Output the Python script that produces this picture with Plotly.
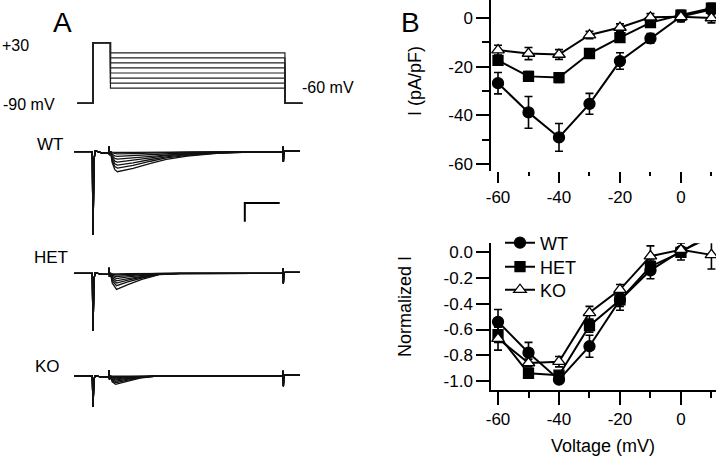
import plotly.graph_objects as go

W, H = 720, 456
FONT = "Liberation Sans, Arial, sans-serif"

# ---------------- Panel B data ----------------
voltage = [-60, -50, -40, -30, -20, -10, 0, 10]

wt_density = [-26.8, -38.8, -49.1, -35.3, -17.7, -8.4, 0.6, 3.5]
wt_density_err = [4.4, 6.5, 5.7, 4.3, 3.4, 2.0, 2.0, 2.0]
het_density = [-17.4, -24.0, -24.5, -14.6, -8.1, -1.9, 1.2, 4.0]
het_density_err = [2.0, 2.0, 2.0, 1.5, 1.5, 1.5, 2.0, 2.0]
ko_density = [-13.2, -14.6, -15.0, -7.0, -3.9, 0.3, 0.5, 0.0]
ko_density_err = [2.0, 2.5, 2.0, 1.5, 1.5, 1.5, 2.0, 2.0]

wt_norm = [-0.54, -0.78, -0.99, -0.73, -0.37, -0.14, 0.01, 0.12]
wt_norm_err = [0.095, 0.08, 0.02, 0.085, 0.08, 0.065, 0.07, 0.0]
het_norm = [-0.64, -0.94, -0.955, -0.57, -0.37, -0.11, 0.0, 0.15]
het_norm_err = [0.06, 0.02, 0.02, 0.05, 0.05, 0.05, 0.03, 0.0]
ko_norm = [-0.67, -0.86, -0.85, -0.47, -0.29, -0.03, 0.02, -0.02]
ko_norm_err = [0.09, 0.03, 0.04, 0.05, 0.04, 0.08, 0.05, 0.11]

density_ticks = [0, -20, -40, -60]
density_ticktext = ["0", "-20", "-40", "-60"]
norm_ticks = [0.0, -0.2, -0.4, -0.6, -0.8, -1.0]
norm_ticktext = ["0.0", "-0.2", "-0.4", "-0.6", "-0.8", "-1.0"]
volt_ticks = [-60, -40, -20, 0]
volt_ticktext = ["-60", "-40", "-20", "0"]

# ---------------- Panel A data ----------------
step_levels = [-60, -50, -40, -30, -20, -10, 0, 10]     # mV
holding_mv = -90
prepulse_mv = 30
protocol_t = [-9, 0, 0, 10, 10, 110, 110, 120]           # ms

genotypes = ["WT", "HET", "KO"]
spike_pa = {"WT": -445, "HET": -307, "KO": -164}
peak_pa = {
    "WT": [107, 88, 72, 56, 40, 25, 12, 4],
    "HET": [86, 66, 52, 40, 28, 18, 9, 3],
    "KO": [45, 36, 28, 21, 15, 9, 5, 2],
}
shape_t = {
    "WT": [10.05, 11, 12.5, 14, 23, 33, 42, 54, 71, 90, 108.5],
    "HET": [10.05, 11, 13.5, 20, 28, 38, 50, 108.5],
    "KO": [10.05, 11, 13, 20, 27, 35, 108.5],
}
shape_rel = {
    "WT": [0, 0.55, 0.9, 1.0, 0.83, 0.58, 0.38, 0.22, 0.08, 0.02, 0],
    "HET": [0, 0.6, 1.0, 0.7, 0.38, 0.08, 0.02, 0],
    "KO": [0, 0.7, 1.0, 0.6, 0.25, 0.05, 0],
}
pre_t = [-10.8, -0.4, 0.0, 0.6, 1.3, 2.5, 5.0, 9.0, 9.2, 9.45, 9.7, 10.0]
pre_spike_rel = [0, 0, 1, 0.09, -0.01, 0, 0, 0, 0, 0, 0, 0]
pre_artifact_pa = [0, 0, 0, 0, 0, 0, -6, -6, 30, -18, -4, 0]
post_t = [108.7, 108.9, 109.1, 109.4, 110.0, 118.5]
post_pa = [0, 28, -55, 0, 5, 5]
scalebar_ms = 20
scalebar_pa = 100
scalebar_origin = (87, -275)


# ---------------- helpers for placement ----------------
def xdom(a, b):
    return [a / W, b / W]


def ydom(top, bottom):
    return [1 - bottom / H, 1 - top / H]


fig = go.Figure()

# ---- Panel B ----
series = [
    ("WT", "circle", "black", wt_density, wt_density_err, wt_norm, wt_norm_err, "legend", 243),
    ("HET", "square", "black", het_density, het_density_err, het_norm, het_norm_err, "legend2", 267),
    ("KO", "triangle-up", "white", ko_density, ko_density_err, ko_norm, ko_norm_err, "legend3", 290),
]
for name, sym, fill, yv, ye, yn, yne, lg, ly in series:
    msize = 11 if sym != "square" else 10
    fig.add_trace(go.Scatter(
        x=voltage, y=yv, mode="lines+markers", name=name, showlegend=False,
        line=dict(color="black", width=2),
        marker=dict(symbol=sym, size=msize, color=fill, line=dict(color="black", width=1.3)),
        error_y=dict(type="data", array=ye, color="black", thickness=1.6, width=4),
        xaxis="x", yaxis="y",
    ))
for name, sym, fill, yv, ye, yn, yne, lg, ly in series:
    msize = 11 if sym != "square" else 10
    fig.add_trace(go.Scatter(
        x=voltage, y=yn, mode="lines+markers", name=name, showlegend=True, legend=lg,
        line=dict(color="black", width=2),
        marker=dict(symbol=sym, size=msize, color=fill, line=dict(color="black", width=1.3)),
        error_y=dict(type="data", array=yne, color="black", thickness=1.6, width=4),
        xaxis="x2", yaxis="y2",
    ))

# ---- Panel A: voltage protocol ----
for lvl in step_levels:
    v = [holding_mv, holding_mv, prepulse_mv, prepulse_mv, lvl, lvl, holding_mv, holding_mv]
    fig.add_trace(go.Scatter(x=protocol_t, y=v, mode="lines", showlegend=False,
                             line=dict(color="#222", width=1.2), xaxis="x3", yaxis="y3",
                             hoverinfo="skip"))

# ---- Panel A: current traces ----
axes_for = {"WT": ("x4", "y4"), "HET": ("x5", "y5"), "KO": ("x6", "y6")}
for g in genotypes:
    xa, ya = axes_for[g]
    pre_i = [spike_pa[g] * r + a for r, a in zip(pre_spike_rel, pre_artifact_pa)]
    for pk in peak_pa[g]:
        step_i = [-pk * s for s in shape_rel[g]]
        t = pre_t + shape_t[g] + post_t
        i = pre_i + step_i + post_pa
        fig.add_trace(go.Scatter(x=t, y=i, mode="lines", showlegend=False,
                                 line=dict(color="#111", width=1.3), xaxis=xa, yaxis=ya,
                                 hoverinfo="skip"))

# scale bar (WT axes)
sx, sy = scalebar_origin
fig.add_trace(go.Scatter(x=[sx, sx, sx + scalebar_ms], y=[sy - scalebar_pa, sy, sy],
                         mode="lines", showlegend=False, line=dict(color="black", width=2),
                         xaxis="x4", yaxis="y4", hoverinfo="skip"))

# ---------------- layout ----------------
tickfont = dict(family=FONT, size=17, color="black")
xr = [-62.3, 11.5]
a_xrange = [-13.18, 124.36]
a_xdom = xdom(70, 310)
hidden = dict(visible=False, showgrid=False, zeroline=False, fixedrange=True, automargin=False)


def legend_at(py):
    return dict(x=500 / W, y=1 - py / H, xanchor="left", yanchor="middle",
                font=dict(family=FONT, size=18, color="black"),
                bgcolor="rgba(0,0,0,0)", borderwidth=0, itemwidth=30)


fig.update_layout(
    template="none",
    width=W, height=H, margin=dict(l=0, r=0, t=0, b=0, pad=0, autoexpand=False),
    paper_bgcolor="white", plot_bgcolor="rgba(0,0,0,0)",
    font=dict(family=FONT, size=17, color="black"),
    showlegend=True,
    legend=legend_at(series[0][8]),
    legend2=legend_at(series[1][8]),
    legend3=legend_at(series[2][8]),
    xaxis=dict(domain=xdom(491, 716), range=xr, anchor="y", automargin=False,
               showline=False, showgrid=False, zeroline=False,
               ticks="outside", ticklen=11, tickwidth=1.5, tickcolor="black",
               tickvals=volt_ticks, ticktext=volt_ticktext, tickfont=tickfont,
               minor=dict(tickvals=[-50, -30, -10, 10], ticks="outside", ticklen=4,
                          tickwidth=1.5, tickcolor="black", showgrid=False)),
    yaxis=dict(domain=ydom(0, 171), range=[-62.9, 7.4], anchor="x", automargin=False,
               showline=True, linecolor="black", linewidth=1.5, showgrid=False, zeroline=False,
               ticks="outside", ticklen=13, tickwidth=1.5, tickcolor="black",
               tickvals=density_ticks, ticktext=density_ticktext, tickfont=tickfont,
               minor=dict(tickvals=[-10, -30, -50], ticks="outside", ticklen=7,
                          tickwidth=1.5, tickcolor="black", showgrid=False)),
    xaxis2=dict(domain=xdom(491, 716), range=xr, anchor="y2", automargin=False,
                showline=True, linecolor="black", linewidth=1.5, showgrid=False, zeroline=False,
                ticks="outside", ticklen=13, tickwidth=1.5, tickcolor="black",
                tickvals=volt_ticks, ticktext=volt_ticktext, tickfont=tickfont,
                minor=dict(tickvals=[-50, -30, -10, 10], ticks="outside", ticklen=6,
                           tickwidth=1.5, tickcolor="black", showgrid=False)),
    yaxis2=dict(domain=ydom(243.3, 390), range=[-1.07, 0.07], anchor="x2", automargin=False,
                showline=True, linecolor="black", linewidth=1.5, showgrid=False, zeroline=False,
                ticks="outside", ticklen=13, tickwidth=1.5, tickcolor="black",
                tickvals=norm_ticks, ticktext=norm_ticktext, tickfont=tickfont),
    xaxis3=dict(domain=a_xdom, range=a_xrange, anchor="y3", **hidden),
    yaxis3=dict(domain=ydom(30, 110), range=[-103.3, 55.1], anchor="x3", **hidden),
    xaxis4=dict(domain=a_xdom, range=a_xrange, anchor="y4", **hidden),
    yaxis4=dict(domain=ydom(140, 240), range=[-472.4, 62.6], anchor="x4", **hidden),
    xaxis5=dict(domain=a_xdom, range=a_xrange, anchor="y5", **hidden),
    yaxis5=dict(domain=ydom(260, 340), range=[-356.8, 71.2], anchor="x5", **hidden),
    xaxis6=dict(domain=a_xdom, range=a_xrange, anchor="y6", **hidden),
    yaxis6=dict(domain=ydom(365, 415), range=[-208.7, 58.9], anchor="x6", **hidden),
)


def label(text, px, py, size=17, xanchor="center", yanchor="middle", angle=0):
    fig.add_annotation(text=text, x=px / W, y=1 - py / H, xref="paper", yref="paper",
                       showarrow=False, xanchor=xanchor, yanchor=yanchor, textangle=angle,
                       font=dict(family=FONT, size=size, color="black"))


label("A", 63, 23, size=28)
label("B", 410, 23, size=28)
label("+30", 0, 46, size=16, xanchor="left")
label("-90 mV", 1, 104, size=16, xanchor="left")
label("-60 mV", 300, 88, size=16, xanchor="left")
label("WT", 35, 145, size=17, xanchor="left")
label("HET", 32, 257, size=17, xanchor="left")
label("KO", 33, 366, size=17, xanchor="left")
label("I (pA/pF)", 415, 81, size=18, angle=-90)
label("Normalized I", 405, 307, size=18, angle=-90)
label("Voltage (mV)", 603, 446, size=18)

fig.write_html(
    "out.html",
    config={"displayModeBar": False},
    post_script="document.body.style.margin='0';document.body.style.overflow='hidden';",
)
